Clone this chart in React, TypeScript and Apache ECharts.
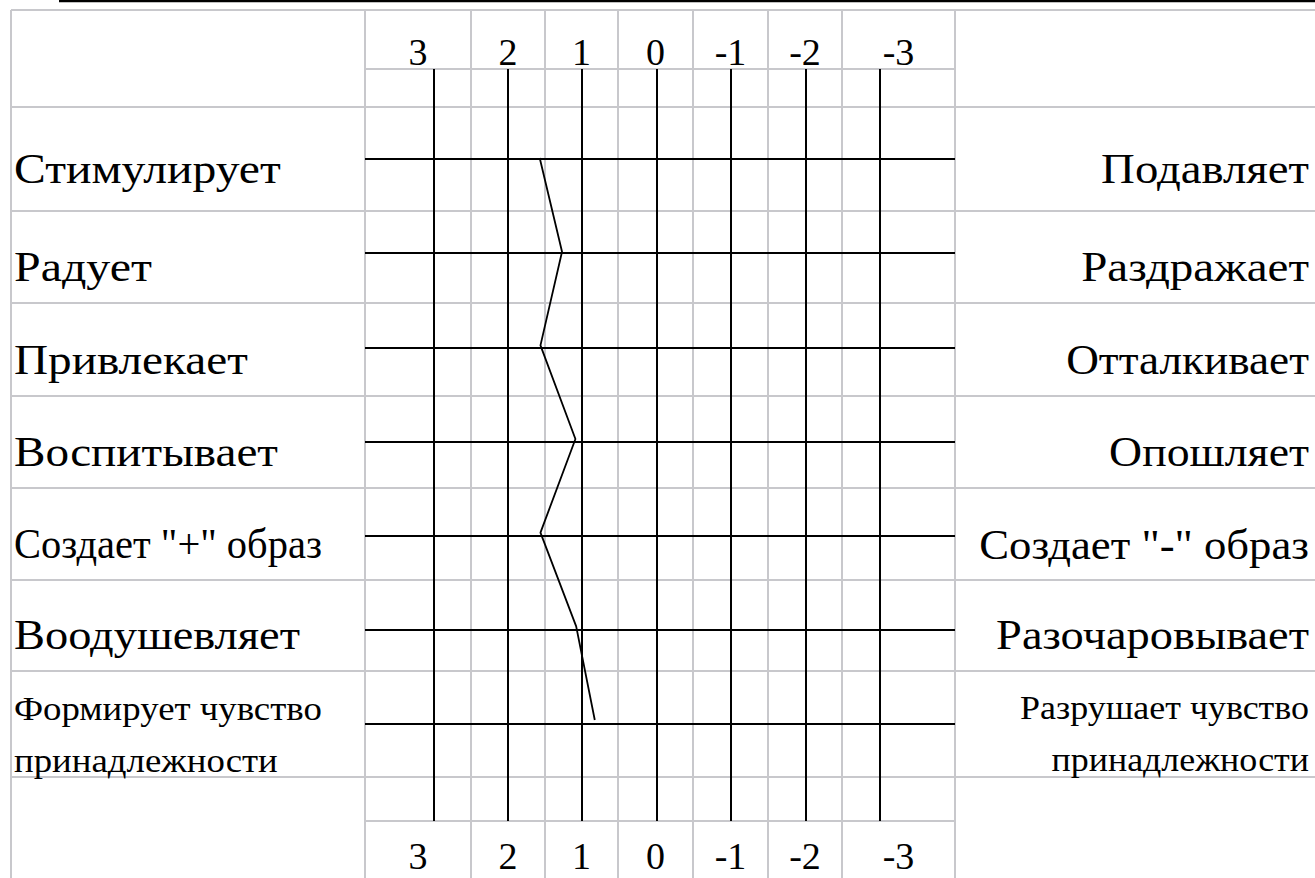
import React, { useEffect, useRef } from 'react';
import * as echarts from 'echarts';

// ---------- data ----------
const positivePoles = [
  'Стимулирует',
  'Радует',
  'Привлекает',
  'Воспитывает',
  'Создает "+" образ',
  'Воодушевляет',
  'Формирует чувство\nпринадлежности',
];
const negativePoles = [
  'Подавляет',
  'Раздражает',
  'Отталкивает',
  'Опошляет',
  'Создает "-" образ',
  'Разочаровывает',
  'Разрушает чувство\nпринадлежности',
];
const profileValues = [1.57, 1.27, 1.56, 1.09, 1.56, 1.08, 0.83];
const scaleTickLabels = ['3', '2', '1', '0', '-1', '-2', '-3'];

// ---------- layout (positions / sizes / styles) ----------
const W = 1315;
const H = 878;
const COL_EDGES = [11, 365, 471, 545, 618, 693, 768, 842, 955];
const FULL_ROW_EDGES = [10, 107, 211, 303, 396, 488, 580, 671, 777];
const INNER_ROW_EDGES = [69, 821];
const PLOT_LEFT = 365;
const PLOT_RIGHT = 955;
const SCALE_LEFT = 433.3;
const SCALE_RIGHT = 879.8;
const V_TOP = 69;
const V_BOTTOM = 821;
const H_TOP = 159;
const H_BOTTOM = 724;
const P_TOP = 158;
const P_BOTTOM = 720;
const GRID_GRAY = '#c8c8cc';
const FAMILY = '"Liberation Serif", "Times New Roman", serif';
const LABEL_SIZE = 42;
const SMALL_LABEL_SIZE = 34;
const NUM_SIZE = 38;
const LEFT_TEXT_X = 14;
const RIGHT_TEXT_X = 1309;
const LEFT_WIDTHS = [267, 138, 234, 264, 308, 286, 308];
const RIGHT_WIDTHS = [208, 228, 243, 200, 330, 313, 289];
const TEXT_OFFSET_Y = 10;
const TOP_NUM_Y = 52;
const BOTTOM_NUM_Y = 856;

const fontOf = (size: number) => `${size}px ${FAMILY}`;

let measureCtx: CanvasRenderingContext2D | null = null;
function measure(text: string, size: number): number {
  if (!measureCtx) {
    const c = document.createElement('canvas');
    measureCtx = c.getContext('2d');
  }
  if (!measureCtx) return 1;
  measureCtx.font = fontOf(size);
  let w = 0;
  text.split('\n').forEach((line) => {
    w = Math.max(w, measureCtx!.measureText(line).width);
  });
  return w || 1;
}

function buildGraphics() {
  const els: any[] = [];
  // top black rule
  els.push({
    type: 'line',
    z: 1,
    shape: { x1: 59, y1: 1, x2: W, y2: 1 },
    style: { stroke: '#000', lineWidth: 2.5 },
  });
  // spreadsheet gridlines
  COL_EDGES.forEach((x) => {
    els.push({
      type: 'line',
      z: 0,
      shape: { x1: x, y1: FULL_ROW_EDGES[0], x2: x, y2: H },
      style: { stroke: GRID_GRAY, lineWidth: 2 },
    });
  });
  FULL_ROW_EDGES.forEach((y) => {
    els.push({
      type: 'line',
      z: 0,
      shape: { x1: COL_EDGES[0], y1: y, x2: W, y2: y },
      style: { stroke: GRID_GRAY, lineWidth: 2 },
    });
  });
  INNER_ROW_EDGES.forEach((y) => {
    els.push({
      type: 'line',
      z: 0,
      shape: { x1: PLOT_LEFT, y1: y, x2: PLOT_RIGHT, y2: y },
      style: { stroke: GRID_GRAY, lineWidth: 2 },
    });
  });
  // scale numbers in the cells (top and bottom)
  scaleTickLabels.forEach((t, i) => {
    const cx = (COL_EDGES[i + 1] + COL_EDGES[i + 2]) / 2;
    [TOP_NUM_Y, BOTTOM_NUM_Y].forEach((y) => {
      els.push({
        type: 'text',
        z: 10,
        x: cx,
        y,
        style: {
          text: t,
          font: fontOf(NUM_SIZE),
          fill: '#000',
          align: 'center',
          verticalAlign: 'middle',
        },
      });
    });
  });
  // pole labels
  const rowCenters: number[] = [];
  for (let i = 1; i < FULL_ROW_EDGES.length - 1; i++) {
    rowCenters.push((FULL_ROW_EDGES[i] + FULL_ROW_EDGES[i + 1]) / 2);
  }
  const addLabel = (label: string, i: number, left: boolean) => {
    const multi = label.indexOf('\n') >= 0;
    const size = multi ? SMALL_LABEL_SIZE : LABEL_SIZE;
    const target = left ? LEFT_WIDTHS[i] : RIGHT_WIDTHS[i];
    const sx = target / measure(label, size);
    els.push({
      type: 'text',
      z: 10,
      x: left ? LEFT_TEXT_X : RIGHT_TEXT_X,
      y: rowCenters[i] + TEXT_OFFSET_Y,
      scaleX: sx,
      style: {
        text: label,
        font: fontOf(size),
        lineHeight: multi ? 52 : Math.round(size * 1.2),
        fill: '#000',
        align: left ? 'left' : 'right',
        verticalAlign: 'middle',
      },
    });
  };
  positivePoles.forEach((label, i) => addLabel(label, i, true));
  negativePoles.forEach((label, i) => addLabel(label, i, false));
  return els;
}

export default function App() {
  const ref = useRef<HTMLDivElement>(null);
  useEffect(() => {
    if (!ref.current) return;
    const chart = echarts.init(ref.current, undefined, { renderer: 'svg' });
    const hidden = { show: false };
    chart.setOption({
      animation: false,
      backgroundColor: '#fff',
      grid: [
        // horizontal row lines
        {
          left: PLOT_LEFT,
          width: PLOT_RIGHT - PLOT_LEFT,
          top: H_TOP,
          height: H_BOTTOM - H_TOP,
          containLabel: false,
        },
        // vertical scale lines
        {
          left: SCALE_LEFT,
          width: SCALE_RIGHT - SCALE_LEFT,
          top: V_TOP,
          height: V_BOTTOM - V_TOP,
          containLabel: false,
        },
        // profile line
        {
          left: SCALE_LEFT,
          width: SCALE_RIGHT - SCALE_LEFT,
          top: P_TOP,
          height: P_BOTTOM - P_TOP,
          containLabel: false,
        },
      ],
      xAxis: [
        {
          gridIndex: 0,
          type: 'value',
          min: 0,
          max: 1,
          axisLine: hidden,
          axisTick: hidden,
          axisLabel: hidden,
          splitLine: hidden,
        },
        {
          gridIndex: 1,
          type: 'value',
          min: -3,
          max: 3,
          interval: 1,
          inverse: true,
          z: 5,
          axisLine: hidden,
          axisTick: hidden,
          axisLabel: hidden,
          splitLine: { show: true, lineStyle: { color: '#000', width: 2 } },
        },
        {
          gridIndex: 2,
          type: 'value',
          min: -3,
          max: 3,
          interval: 1,
          inverse: true,
          axisLine: hidden,
          axisTick: hidden,
          axisLabel: hidden,
          splitLine: hidden,
        },
      ],
      yAxis: [
        {
          gridIndex: 0,
          type: 'category',
          data: positivePoles,
          inverse: true,
          boundaryGap: false,
          z: 5,
          axisLine: hidden,
          axisTick: { show: false, interval: 0 },
          axisLabel: { show: false, interval: 0 },
          splitLine: { show: true, interval: 0, lineStyle: { color: '#000', width: 2 } },
        },
        {
          gridIndex: 1,
          type: 'value',
          min: 0,
          max: 1,
          axisLine: hidden,
          axisTick: hidden,
          axisLabel: hidden,
          splitLine: hidden,
        },
        {
          gridIndex: 2,
          type: 'category',
          data: positivePoles,
          inverse: true,
          boundaryGap: false,
          axisLine: hidden,
          axisTick: hidden,
          axisLabel: hidden,
          splitLine: hidden,
        },
      ],
      series: [
        {
          type: 'line',
          xAxisIndex: 2,
          yAxisIndex: 2,
          z: 10,
          symbol: 'none',
          silent: true,
          lineStyle: { color: '#000', width: 1.8 },
          data: profileValues.map((v, i) => [v, i]),
        },
      ],
      graphic: { elements: buildGraphics() },
    });
    return () => chart.dispose();
  }, []);
  return (
    <div
      ref={ref}
      style={{ position: 'absolute', left: 0, top: 0, width: W, height: H, background: '#fff' }}
    />
  );
}
